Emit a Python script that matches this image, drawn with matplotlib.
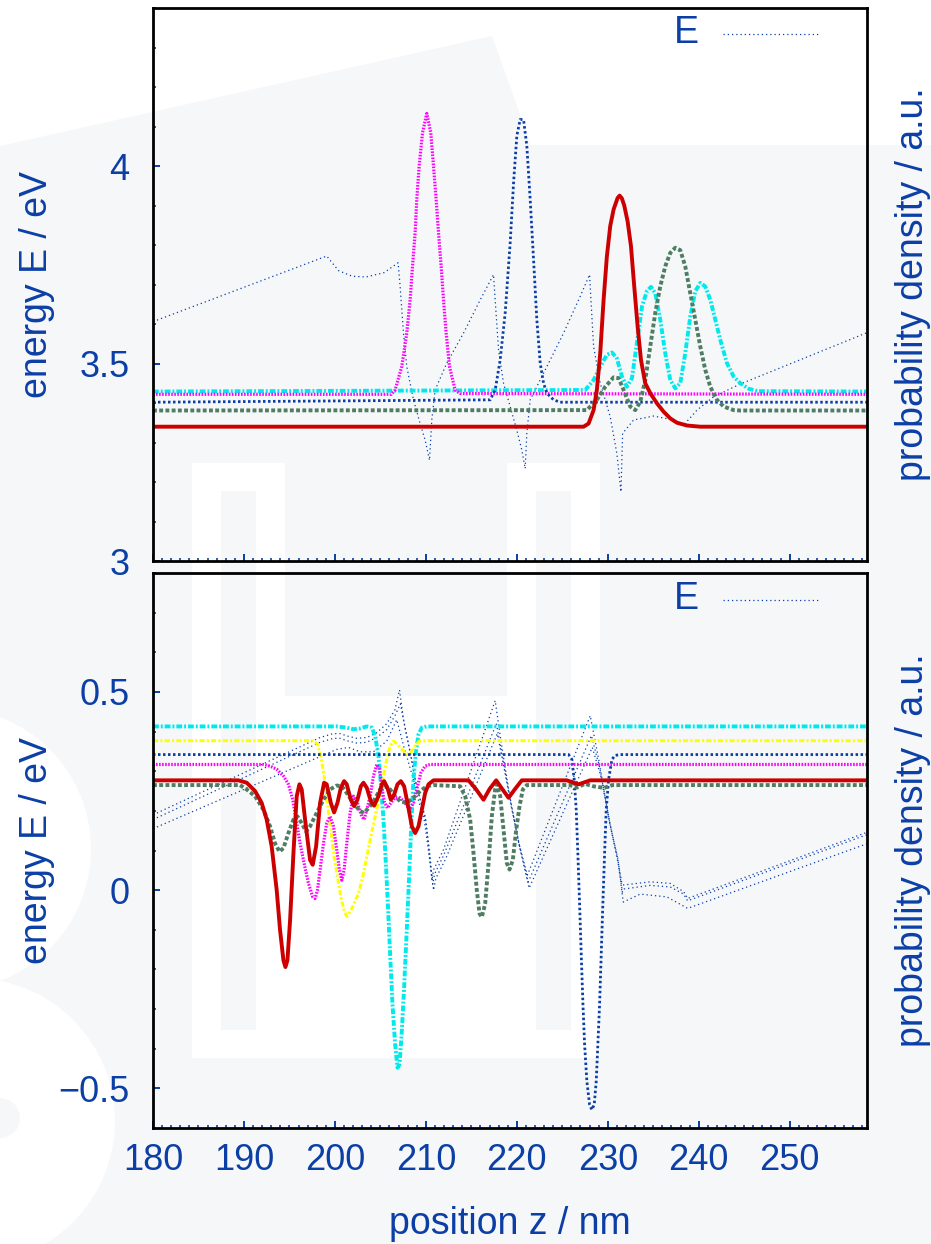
import matplotlib
matplotlib.use('Agg')
import matplotlib.pyplot as plt
from matplotlib.patches import Polygon, Ellipse
from matplotlib.ticker import MultipleLocator, FixedLocator, FuncFormatter
import numpy as np

plt.rcParams['font.family'] = ['Liberation Sans', 'DejaVu Sans']

# ---------------- data (z in nm, value in eV) ----------------
z_range = (180, 258.5)

# upper panel: conduction band edge and electron densities
top_E = [(180, 3.606), (199.1, 3.772), (200.4, 3.735), (201.9, 3.721), (203.4, 3.719), (205.4, 3.730),
         (206.95, 3.755), (207.17, 3.695), (207.54, 3.577), (207.9, 3.492), (208.64, 3.408), (209.37, 3.348),
         (209.92, 3.306), (210.4, 3.255), (210.65, 3.357), (211.02, 3.433), (212.3, 3.501), (214.14, 3.577),
         (215.97, 3.661), (217.44, 3.725), (217.62, 3.661), (217.99, 3.534), (218.54, 3.45), (219.27, 3.391),
         (220.0, 3.331), (220.55, 3.281), (220.92, 3.234), (221.1, 3.323), (221.47, 3.408), (223.3, 3.492),
         (225.14, 3.577), (226.97, 3.67), (228.0, 3.725), (228.15, 3.661), (228.44, 3.543), (229.17, 3.45),
         (230.27, 3.365), (231.0, 3.272), (231.45, 3.175), (231.63, 3.323), (232.84, 3.357), (235.04, 3.367),
         (237.24, 3.357), (238.34, 3.344), (239.81, 3.382), (241.64, 3.416), (244.57, 3.448), (258.5, 3.578)]

top_cyan = [(180, 3.429), (227.52, 3.433), (228.44, 3.458), (229.17, 3.492), (229.9, 3.522), (230.46, 3.528),
            (231.0, 3.513), (231.56, 3.467), (232.1, 3.441), (232.66, 3.463), (233.2, 3.551), (233.76, 3.644),
            (234.3, 3.683), (234.75, 3.694), (235.22, 3.678), (235.77, 3.611), (236.32, 3.526), (236.87, 3.458),
            (237.42, 3.437), (237.97, 3.45), (238.52, 3.526), (239.07, 3.619), (239.62, 3.683), (240.17, 3.704),
            (240.72, 3.695), (241.27, 3.661), (241.82, 3.611), (242.37, 3.56), (243.1, 3.501), (243.84, 3.467),
            (244.57, 3.45), (245.5, 3.436), (246.5, 3.43), (258.5, 3.429)]

top_magenta = [(180, 3.422), (206.2, 3.422), (206.62, 3.433), (207.35, 3.492), (207.9, 3.577), (208.27, 3.661),
               (208.53, 3.746), (208.82, 3.831), (209.0, 3.915), (209.26, 4.0), (209.63, 4.084), (210.1, 4.133),
               (210.54, 4.084), (210.84, 4.0), (211.13, 3.915), (211.39, 3.831), (211.68, 3.746), (211.94, 3.661),
               (212.23, 3.577), (212.6, 3.492), (213.22, 3.433), (213.77, 3.424), (258.5, 3.422)]

top_blue = [(180, 3.402), (217.07, 3.408), (217.62, 3.433), (218.17, 3.509), (218.72, 3.628), (219.27, 3.805),
            (219.64, 3.957), (220.0, 4.076), (220.37, 4.118), (220.74, 4.117), (221.1, 4.051), (221.47, 3.915),
            (221.84, 3.763), (222.2, 3.611), (222.57, 3.501), (222.94, 3.45), (223.3, 3.425), (224.04, 3.408),
            (224.77, 3.402), (258.5, 3.402)]

top_green = [(180, 3.381), (227.7, 3.382), (228.8, 3.408), (229.72, 3.441), (230.64, 3.465), (231.19, 3.463),
             (231.74, 3.433), (232.47, 3.391), (233.02, 3.382), (233.57, 3.403), (234.12, 3.458), (234.67, 3.543),
             (235.22, 3.628), (235.77, 3.695), (236.32, 3.746), (236.87, 3.78), (237.42, 3.793), (237.97, 3.787),
             (238.52, 3.746), (239.07, 3.678), (239.62, 3.611), (240.17, 3.543), (240.72, 3.484), (241.27, 3.441),
             (242.0, 3.408), (242.74, 3.391), (243.84, 3.382), (244.57, 3.381), (258.5, 3.381)]

top_red = [(180, 3.340), (227.34, 3.340), (227.89, 3.348), (228.44, 3.382), (228.8, 3.433), (229.17, 3.526),
           (229.54, 3.661), (229.9, 3.771), (230.27, 3.848), (230.64, 3.89), (231.08, 3.919), (231.3, 3.925),
           (231.55, 3.918), (231.81, 3.9), (232.18, 3.86), (232.55, 3.797), (232.91, 3.695), (233.28, 3.594),
           (233.65, 3.509), (234.12, 3.45), (234.67, 3.425), (235.41, 3.399), (236.14, 3.378), (236.87, 3.361),
           (237.61, 3.35), (238.71, 3.343), (240.17, 3.340), (258.5, 3.340)]

# lower panel: valence band edges and hole densities
bot_E_a = [(180, 0.19), (198.37, 0.385), (199.84, 0.395), (200.57, 0.395), (201.3, 0.389), (202.4, 0.383),
           (203.5, 0.385), (204.6, 0.397), (205.7, 0.42), (206.6, 0.455), (207.1, 0.505), (207.54, 0.431),
           (208.27, 0.347), (208.82, 0.279), (209.37, 0.229), (209.92, 0.186), (210.29, 0.110), (210.66, 0.025),
           (210.84, 0.051), (211.94, 0.102), (217.62, 0.478), (218.3, 0.37), (219.2, 0.24), (220.2, 0.12),
           (221.17, 0.038), (228.07, 0.44), (229.0, 0.33), (230.2, 0.17), (231.0, 0.09), (231.55, 0.017),
           (231.74, 0.013), (234.67, 0.021), (236.87, 0.017), (238.34, -0.004), (238.78, -0.021), (258.5, 0.146)]

bot_E_b = [(180, 0.178), (198.37, 0.373), (199.84, 0.383), (200.57, 0.383), (201.3, 0.377), (202.4, 0.371),
           (203.5, 0.373), (204.6, 0.385), (205.7, 0.405), (206.6, 0.44), (207.2, 0.47), (207.7, 0.41),
           (208.4, 0.335), (208.9, 0.27), (209.5, 0.218), (210.0, 0.175), (210.4, 0.1), (210.75, 0.015),
           (210.95, 0.04), (212.0, 0.09), (217.75, 0.42), (218.4, 0.34), (219.3, 0.225), (220.3, 0.11),
           (221.25, 0.02), (228.2, 0.39), (229.1, 0.31), (230.3, 0.16), (231.1, 0.08), (231.6, -0.005),
           (231.8, 0.003), (234.67, 0.012), (236.87, 0.008), (238.34, -0.01), (238.78, -0.027), (258.5, 0.14)]

bot_E_c = [(180, 0.155), (200.2, 0.355), (201.5, 0.36), (202.77, 0.349), (204.24, 0.349), (205.7, 0.376),
           (206.8, 0.43), (207.6, 0.36), (208.5, 0.29), (209.2, 0.225), (209.8, 0.18), (210.4, 0.08),
           (210.85, 0.0), (211.1, 0.03), (212.2, 0.08), (217.85, 0.395), (218.5, 0.32), (219.4, 0.21),
           (220.4, 0.1), (221.35, 0.005), (228.3, 0.36), (229.2, 0.29), (230.4, 0.15), (231.2, 0.06),
           (231.7, -0.03), (233.57, -0.01), (236.5, -0.017), (238.78, -0.046), (258.5, 0.117)]

bot_cyan = [(180, 0.413), (200.2, 0.413), (201.3, 0.410), (202.04, 0.406), (202.77, 0.408), (203.51, 0.413),
            (204.06, 0.410), (204.42, 0.389), (204.79, 0.338), (205.08, 0.262), (205.34, 0.178), (205.6, 0.068),
            (205.82, -0.034), (206.07, -0.161), (206.33, -0.288), (206.62, -0.389), (206.88, -0.448), (207.1, -0.440),
            (207.36, -0.355), (207.61, -0.245), (207.9, -0.101), (208.16, 0.034), (208.42, 0.178), (208.64, 0.279),
            (208.9, 0.347), (209.19, 0.393), (209.56, 0.410), (210.1, 0.413), (258.5, 0.413)]

bot_yellow = [(180, 0.377), (197.64, 0.377), (198.08, 0.368), (198.45, 0.338), (198.81, 0.288), (199.18, 0.220),
              (199.55, 0.152), (199.91, 0.085), (200.28, 0.034), (200.65, -0.017), (201.01, -0.051), (201.3, -0.066),
              (201.67, -0.055), (202.11, -0.034), (202.59, -0.008), (203.07, 0.034), (203.51, 0.085), (203.95, 0.135),
              (204.42, 0.186), (204.9, 0.237), (205.34, 0.288), (205.7, 0.330), (206.07, 0.364), (206.44, 0.376),
              (206.88, 0.368), (207.36, 0.355), (207.9, 0.343), (208.35, 0.347), (208.82, 0.364), (209.3, 0.376),
              (209.92, 0.377), (258.5, 0.377)]

bot_blue = [(180, 0.342), (225.69, 0.342), (226.05, 0.330), (226.31, 0.279), (226.53, 0.203), (226.71, 0.093),
            (226.9, -0.034), (227.08, -0.161), (227.27, -0.288), (227.45, -0.389), (227.7, -0.482), (228.0, -0.541),
            (228.25, -0.554), (228.51, -0.541), (228.73, -0.482), (228.91, -0.389), (229.1, -0.288), (229.28, -0.161),
            (229.46, -0.034), (229.65, 0.093), (229.83, 0.203), (230.09, 0.279), (230.46, 0.330), (230.82, 0.340),
            (231.37, 0.342), (258.5, 0.342)]

bot_magenta = [(180, 0.317), (192.14, 0.317), (192.87, 0.313), (193.6, 0.305), (194.34, 0.288), (194.89, 0.267),
               (195.36, 0.229), (195.73, 0.178), (196.17, 0.118), (196.61, 0.068), (197.09, 0.017), (197.56, -0.017),
               (197.82, -0.021), (198.08, 0.0), (198.37, 0.051), (198.74, 0.118), (199.1, 0.169), (199.47, 0.186),
               (199.84, 0.161), (200.2, 0.102), (200.5, 0.051), (200.76, 0.025), (201.01, 0.051), (201.3, 0.118),
               (201.67, 0.195), (202.04, 0.237), (202.48, 0.220), (202.96, 0.186), (203.21, 0.178), (203.51, 0.203),
               (203.87, 0.237), (204.24, 0.288), (204.6, 0.317), (204.9, 0.305), (205.16, 0.262), (205.41, 0.224),
               (205.78, 0.207), (206.15, 0.220), (206.62, 0.233), (207.17, 0.233), (207.72, 0.220), (208.2, 0.203),
               (208.64, 0.220), (209.08, 0.262), (209.45, 0.296), (209.92, 0.313), (210.47, 0.317), (258.5, 0.317)]

bot_green = [(180, 0.265), (189.57, 0.265), (190.30, 0.254), (191.22, 0.237), (192.14, 0.203), (192.87, 0.161),
             (193.42, 0.118), (193.9, 0.097), (194.34, 0.106), (194.89, 0.144), (195.44, 0.178), (195.88, 0.186),
             (196.35, 0.169), (196.83, 0.148), (197.27, 0.161), (198.0, 0.195), (198.74, 0.228), (199.47, 0.254),
             (200.2, 0.264), (200.76, 0.262), (201.3, 0.245), (202.04, 0.220), (202.77, 0.199), (203.21, 0.195),
             (203.69, 0.207), (204.24, 0.224), (204.97, 0.254), (205.52, 0.262), (206.07, 0.254), (206.62, 0.237),
             (207.17, 0.224), (207.9, 0.220), (208.64, 0.233), (209.37, 0.250), (210.1, 0.262), (210.84, 0.265),
             (213.77, 0.262), (214.32, 0.237), (214.87, 0.178), (215.24, 0.093), (215.6, 0.0), (215.9, -0.059),
             (216.15, -0.068), (216.52, -0.034), (216.89, 0.068), (217.25, 0.186), (217.62, 0.254), (217.8, 0.267),
             (218.17, 0.237), (218.54, 0.152), (218.9, 0.068), (219.2, 0.052), (219.56, 0.076), (219.93, 0.152),
             (220.3, 0.212), (220.66, 0.254), (221.1, 0.265), (225.8, 0.265), (226.6, 0.259), (227.5, 0.268),
             (228.4, 0.262), (229.6, 0.258), (230.5, 0.265), (258.5, 0.265)]

bot_red = [(180, 0.277), (189.39, 0.277), (190.30, 0.271), (191.22, 0.250), (191.95, 0.220), (192.5, 0.178),
           (193.05, 0.110), (193.6, 0.0), (193.97, -0.101), (194.34, -0.177), (194.56, -0.194), (194.78, -0.177),
           (195.07, -0.076), (195.44, 0.093), (195.8, 0.237), (196.1, 0.267), (196.35, 0.254), (196.72, 0.178),
           (197.27, 0.076), (197.56, 0.064), (197.93, 0.110), (198.37, 0.220), (198.81, 0.271), (199.1, 0.267),
           (199.55, 0.220), (199.91, 0.196), (200.28, 0.220), (200.65, 0.258), (201.01, 0.275), (201.3, 0.267),
           (201.75, 0.228), (202.11, 0.212), (202.48, 0.228), (202.85, 0.262), (203.14, 0.271), (203.51, 0.258),
           (203.95, 0.224), (204.31, 0.213), (204.79, 0.237), (205.16, 0.267), (205.41, 0.275), (205.78, 0.258),
           (206.15, 0.228), (206.51, 0.241), (206.88, 0.267), (207.25, 0.275), (207.61, 0.262), (207.98, 0.220),
           (208.46, 0.161), (208.82, 0.144), (209.19, 0.161), (209.56, 0.203), (209.92, 0.245), (210.29, 0.267),
           (210.84, 0.277), (214.69, 0.277), (215.5, 0.255), (216.34, 0.228), (217.0, 0.255), (217.73, 0.277),
           (218.4, 0.255), (219.09, 0.233), (219.8, 0.255), (220.55, 0.277), (225.5, 0.277), (226.79, 0.267),
           (228.07, 0.277), (258.5, 0.277)]

top_yticks = [3, 3.5, 4]
bot_yticks = [-0.5, 0, 0.5]
x_ticks = [180, 190, 200, 210, 220, 230, 240, 250]

# ---------------- styles ----------------
BLUE = '#0b3fa6'
GREY = '#f6f7f9'
sty_E = dict(color=BLUE, lw=0.9, ls=(0, (1.0, 2.4)))
sty_cyan = dict(color='#00eaee', lw=2.8, ls=(0, (1.5, 0.5, 0.5, 0.5)))
sty_yellow = dict(color='#ffff00', lw=2.2, ls=(0, (1.7, 0.7, 0.7, 0.7)))
sty_magenta = dict(color='#ff00ff', lw=2.3, ls=(0, (0.5, 0.45)))
sty_blue = dict(color=BLUE, lw=2.0, ls=(0, (0.9, 0.9)))
sty_green = dict(color='#4f7d63', lw=2.8, ls=(0, (1.0, 0.6)))
sty_red = dict(color='#cc0000', lw=2.8, ls='-')

W, H = 931, 1244
fig = plt.figure(figsize=(W / 100, H / 100), dpi=100, facecolor=GREY)


def fpx(x, y):
    return (x / W, 1 - y / H)


def shape(pts, color):
    fig.add_artist(Polygon([fpx(*p) for p in pts], closed=True, transform=fig.transFigure,
                           fc=color, ec='none', zorder=-10))


def box(x0, y0, x1, y1, color):
    shape([(x0, y0), (x1, y0), (x1, y1), (x0, y1)], color)


def disc(cx, cy, r, color):
    fig.add_artist(Ellipse(fpx(cx, cy), 2 * r / W, 2 * r / H, transform=fig.transFigure,
                           fc=color, ec='none', zorder=-10))


# faint watermark in the background
shape([(0, 0), (W, 0), (W, 145), (531, 145), (492, 36), (0, 146)], 'white')
box(192, 463, 285, 1058, 'white')
box(507, 463, 600, 1058, 'white')
box(285, 696, 507, 1058, 'white')
box(221, 491, 256, 1030, GREY)
box(536, 491, 571, 1030, GREY)
disc(-50, 849, 141, 'white')
disc(-28, 1121, 143, 'white')
disc(0, 1118, 20, GREY)

ax_top = fig.add_axes([153 / W, 1 - 561 / H, 714 / W, 553 / H])
ax_bot = fig.add_axes([153 / W, 1 - 1128 / H, 714 / W, 555 / H])


def fmt(v, pos):
    return ('%g' % v).replace('-', '\u2212')


def style_axes(ax, ylim, yticks):
    ax.set_facecolor('none')
    ax.set_xlim(*z_range)
    ax.set_ylim(*ylim)
    for s in ax.spines.values():
        s.set_linewidth(2.0)
        s.set_color('black')
        s.set_zorder(5)
    ax.xaxis.set_major_locator(FixedLocator(x_ticks))
    ax.xaxis.set_minor_locator(MultipleLocator(1))
    ax.yaxis.set_major_locator(FixedLocator(yticks))
    ax.yaxis.set_minor_locator(MultipleLocator(0.1))
    ax.yaxis.set_major_formatter(FuncFormatter(fmt))
    ax.tick_params(which='both', direction='in', color=BLUE, labelcolor=BLUE,
                   top=False, right=False, labelsize=26)
    ax.tick_params(which='major', length=5, width=1.4)
    ax.tick_params(which='minor', length=2.5, width=1.2)
    ax.tick_params(axis='y', pad=17)
    ax.tick_params(axis='x', pad=11)
    ax.set_ylabel('energy E / eV', color=BLUE, fontsize=27, va='center')
    ax.yaxis.set_label_coords(-0.163, 0.5)
    ax.text(1.064, 0.5, 'probability density / a.u.', transform=ax.transAxes, rotation=90,
            ha='center', va='center', color=BLUE, fontsize=27)


def curve(ax, pts, sty, z=2):
    arr = np.array(pts)
    ax.plot(arr[:, 0], arr[:, 1], zorder=z, **sty)


def legend_E(ax, ytxt, yline):
    ax.text(0.7465, ytxt, 'E', transform=ax.transAxes, ha='center', va='center',
            color=BLUE, fontsize=27)
    ax.plot([0.798, 0.934], [yline, yline], transform=ax.transAxes, **sty_E)


style_axes(ax_top, (3, 4.4), top_yticks)
style_axes(ax_bot, (-0.6, 0.8), bot_yticks)
ax_top.tick_params(axis='x', labelbottom=False)

# upper panel
curve(ax_top, top_E, sty_E, 2)
curve(ax_top, top_cyan, sty_cyan, 3)
curve(ax_top, top_magenta, sty_magenta, 3)
curve(ax_top, top_blue, sty_blue, 3)
curve(ax_top, top_green, sty_green, 3)
curve(ax_top, top_red, sty_red, 4)
legend_E(ax_top, 0.955, 0.9534)

# lower panel
curve(ax_bot, bot_E_a, sty_E, 2)
curve(ax_bot, bot_E_b, sty_E, 2)
curve(ax_bot, bot_E_c, sty_E, 2)
curve(ax_bot, bot_cyan, sty_cyan, 3)
curve(ax_bot, bot_yellow, sty_yellow, 3)
curve(ax_bot, bot_blue, sty_blue, 3)
curve(ax_bot, bot_magenta, sty_magenta, 3)
curve(ax_bot, bot_green, sty_green, 3)
curve(ax_bot, bot_red, sty_red, 4)
legend_E(ax_bot, 0.953, 0.951)

ax_bot.set_xlabel('position z / nm', color=BLUE, fontsize=27, va='center')
ax_bot.xaxis.set_label_coords(0.5, -0.173)

fig.savefig('out.png', dpi=100, facecolor=GREY)
